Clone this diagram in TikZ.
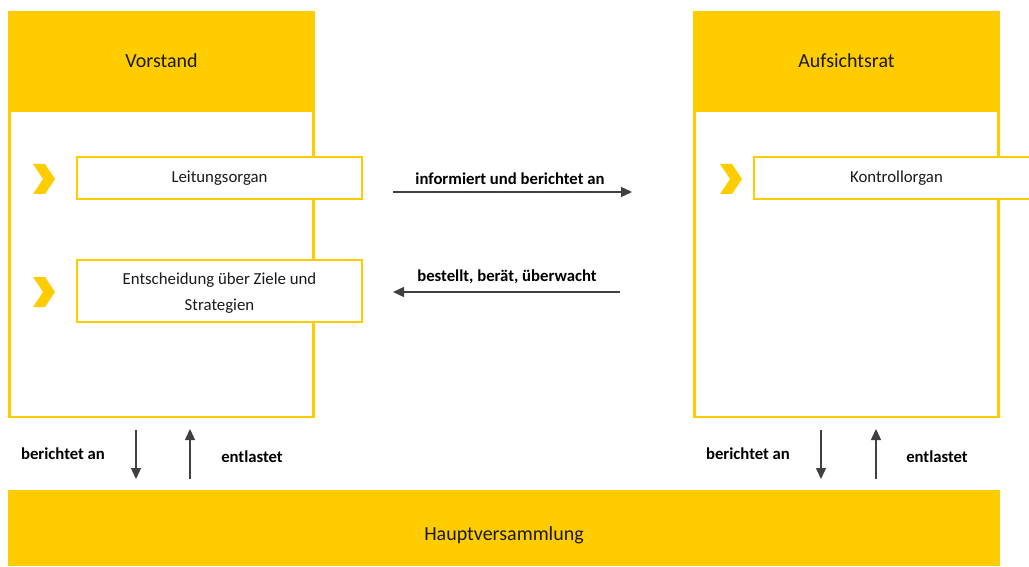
\documentclass[tikz,border=0pt]{standalone}
\usepackage{fontspec}
\setmainfont{Carlito}
\usetikzlibrary{arrows.meta}
\definecolor{gelb}{HTML}{FFCC00}
\definecolor{pfeil}{HTML}{404040}
\definecolor{txt}{HTML}{1A1A1A}
\tikzset{
  head/.style={fill=gelb, draw=none, minimum width=307pt, minimum height=99pt, inner sep=0pt, text=txt, font=\fontsize{20}{24}\selectfont},
  body/.style={draw=gelb, line width=2.5pt, minimum width=304pt, minimum height=306pt, inner sep=0pt},
  item/.style={draw=gelb, line width=2.5pt, fill=white, minimum width=285pt, inner sep=0pt, align=center, text=txt, font=\fontsize{16.8}{26}\selectfont},
  itemtext/.style={inner sep=0pt, align=center, text=txt, font=\fontsize{16.8}{26}\selectfont},
  lbl/.style={text=black, inner sep=0pt, font=\bfseries\fontsize{16.7}{20}\selectfont},
  arr/.style={draw=pfeil, line width=1.3pt, -{Triangle[length=11pt,width=10pt]}},
  chevron/.pic={\fill[gelb] (0,0) -- (12,0) -- (22,15) -- (12,30) -- (0,30) -- (10,15) -- cycle;}
}
\begin{document}
\begin{tikzpicture}[x=1pt,y=-1pt]
\clip (0,0) rectangle (1029,567);
\fill[white] (0,0) rectangle (1029,567);
% Vorstand
\node[body] (vbody) at (161.5,264) {};
\node[head] (vhead) at (161.5,60.5) {Vorstand};
\node[item, minimum height=42pt] (leit) at (219.5,178) {\raisebox{-1pt}{Leitungsorgan}};
\node[item, minimum height=62pt,
      label={[itemtext, yshift=-2pt]center:Entscheidung über Ziele und\\Strategien}] (ents) at (219.5,291) {};
\pic at (33,164) {chevron};
\pic at (33,277) {chevron};
% Aufsichtsrat
\node[body] (abody) at (846.5,264) {};
\node[head] (ahead) at (846.5,60.5) {Aufsichtsrat};
\node[item, minimum height=42pt] (kont) at (896.5,178) {\raisebox{-1pt}{Kontrollorgan}};
\pic at (720,164) {chevron};
% Hauptversammlung
\node[fill=gelb, minimum width=992pt, minimum height=76pt, inner sep=0pt,
      label={[yshift=-7pt, text=txt, font=\fontsize{20}{24}\selectfont]center:Hauptversammlung}] (hv) at (504,528) {};
% horizontal connectors
\coordinate (i1) at (393,192);
\coordinate (i2) at (632,192);
\draw[arr] (i1) -- (i2);
\node[lbl] (li) at (510,179) {informiert und berichtet an};
\coordinate (b1) at (620,292);
\coordinate (b2) at (393,292);
\draw[arr] (b1) -- (b2);
\node[lbl] (lb) at (507,277) {bestellt, berät, überwacht};
% vertical connectors left
\coordinate (vd1) at (136,430);
\coordinate (vd2) at (136,479);
\draw[arr] (vd1) -- (vd2);
\coordinate (vu1) at (190,479);
\coordinate (vu2) at (190,429);
\draw[arr] (vu1) -- (vu2);
\node[lbl] (lvb) at (63,454) {berichtet an};
\node[lbl] (lve) at (252,457) {entlastet};
% vertical connectors right
\coordinate (ad1) at (821,430);
\coordinate (ad2) at (821,479);
\draw[arr] (ad1) -- (ad2);
\coordinate (au1) at (876,479);
\coordinate (au2) at (876,429);
\draw[arr] (au1) -- (au2);
\node[lbl] (lab) at (748,454) {berichtet an};
\node[lbl] (lae) at (937,457) {entlastet};
\end{tikzpicture}
\end{document}
